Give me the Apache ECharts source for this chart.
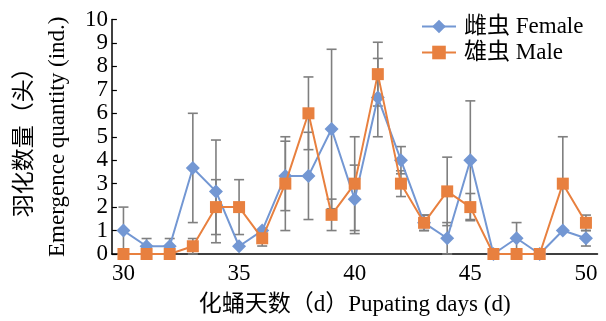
<!DOCTYPE html>
<html>
<head>
<meta charset="utf-8">
<script src="https://cdn.jsdelivr.net/npm/echarts@6/dist/echarts.min.js"></script>
<style>html,body{margin:0;padding:0;background:#fff;}#c{width:606px;height:321px;}</style>
</head>
<body>
<div id="c"></div>
<script>
const days = ['30','31','32','33','34','35','36','37','38','39','40','41','42','43','44','45','46','47','48','49','50'];
const female    = [1, 0.33, 0.33, 3.67, 2.67, 0.33, 1, 3.33, 3.33, 5.33, 2.33, 6.67, 4, 1.33, 0.67, 4, 0, 0.67, 0, 1, 0.67];
const femaleErr = [1, 0.33, 0.33, 2.33, 2.19, 0, 0, 1.48, 1.86, 3.4, 1.46, 1.67, 0.58, 0.33, 0.67, 2.53, 0, 0.67, 0, 0, 0.33];
const male      = [0, 0, 0, 0.33, 2, 2, 0.67, 3, 6, 1.67, 3, 7.67, 3, 1.33, 2.67, 2, 0, 0, 0, 3, 1.33];
const maleErr   = [0, 0, 0, 0.33, 1.17, 1.17, 0.33, 2, 1.55, 0.67, 2, 1.36, 0.55, 0.33, 1.46, 0.58, 0, 0, 0, 2, 0.33];
const yTicks = [0,1,2,3,4,5,6,7,8,9,10];

const FONT = '"Liberation Serif", "Noto Sans CJK SC", serif';
const BLUE = '#7397d3';
const ORANGE = '#e8803f';
const ERR = '#7f7f7f';

function errData(mean, err) {
  const out = [];
  for (let i = 0; i < mean.length; i++) {
    if (err[i] > 0) out.push([i, mean[i] - err[i], mean[i] + err[i]]);
  }
  return out;
}
function renderErr(params, api) {
  const x = api.value(0);
  const lo = api.coord([x, api.value(1)]);
  const hi = api.coord([x, api.value(2)]);
  const hw = 5;
  const style = { stroke: ERR, lineWidth: 1.6, fill: null };
  return {
    type: 'group',
    children: [
      { type: 'line', shape: { x1: lo[0], y1: lo[1], x2: hi[0], y2: hi[1] }, style },
      { type: 'line', shape: { x1: hi[0] - hw, y1: hi[1], x2: hi[0] + hw, y2: hi[1] }, style },
      { type: 'line', shape: { x1: lo[0] - hw, y1: lo[1], x2: lo[0] + hw, y2: lo[1] }, style }
    ]
  };
}

const chart = echarts.init(document.getElementById('c'), null, { renderer: 'canvas' });
chart.setOption({
  animation: false,
  backgroundColor: '#fff',
  textStyle: { fontFamily: FONT },
  grid: { left: 104, right: 8.5, top: 19.5, bottom: 58.5, containLabel: false },
  legend: {
    orient: 'vertical',
    left: 421, top: 15,
    padding: 0,
    itemWidth: 34, itemHeight: 17, itemGap: 3,
    textStyle: { fontFamily: FONT, fontSize: 23, color: '#000', padding: [0, 0, 0, 3], lineHeight: 23 },
    data: ['雌虫 Female', '雄虫 Male']
  },
  xAxis: {
    type: 'category',
    data: days,
    boundaryGap: true,
    name: '化蛹天数（d）Pupating days (d)',
    nameLocation: 'middle',
    nameGap: 39,
    nameTextStyle: { fontFamily: FONT, fontSize: 23, color: '#000' },
    axisLine: { lineStyle: { color: '#000', width: 1.5 } },
    axisTick: { inside: true, interval: 0, length: 5, lineStyle: { color: '#000', width: 1.2 } },
    axisLabel: { interval: 4, margin: 8, fontFamily: FONT, fontSize: 23, color: '#000' },
    splitLine: { show: false }
  },
  yAxis: {
    type: 'value',
    min: 0, max: 10, interval: 1,
    name: '羽化数量（头）\nEmergence quantity (ind.)',
    nameLocation: 'middle',
    nameGap: 30,
    nameRotate: 90,
    nameTextStyle: { fontFamily: FONT, fontSize: 23, color: '#000', lineHeight: 33 },
    axisLine: { show: true, lineStyle: { color: '#000', width: 1.5 } },
    axisTick: { show: true, inside: true, length: 5, lineStyle: { color: '#000', width: 1.2 } },
    axisLabel: {
      margin: 4, fontFamily: FONT, fontSize: 23, color: '#000',
      formatter: function (v) { return yTicks.indexOf(v) >= 0 ? String(v) : ''; }
    },
    splitLine: { show: false }
  },
  series: [
    {
      type: 'custom', name: 'femaleErr', renderItem: renderErr,
      data: errData(female, femaleErr), z: 1, silent: true,
      encode: { x: 0, y: [1, 2] }
    },
    {
      type: 'custom', name: 'maleErr', renderItem: renderErr,
      data: errData(male, maleErr), z: 1, silent: true,
      encode: { x: 0, y: [1, 2] }
    },
    {
      type: 'line', name: '雌虫 Female', data: female, z: 3,
      symbol: 'diamond', symbolSize: [14, 14],
      itemStyle: { color: BLUE },
      lineStyle: { color: BLUE, width: 2 }
    },
    {
      type: 'line', name: '雄虫 Male', data: male, z: 4,
      symbol: 'rect', symbolSize: 12,
      itemStyle: { color: ORANGE },
      lineStyle: { color: ORANGE, width: 2 }
    }
  ]
});
</script>
</body>
</html>
